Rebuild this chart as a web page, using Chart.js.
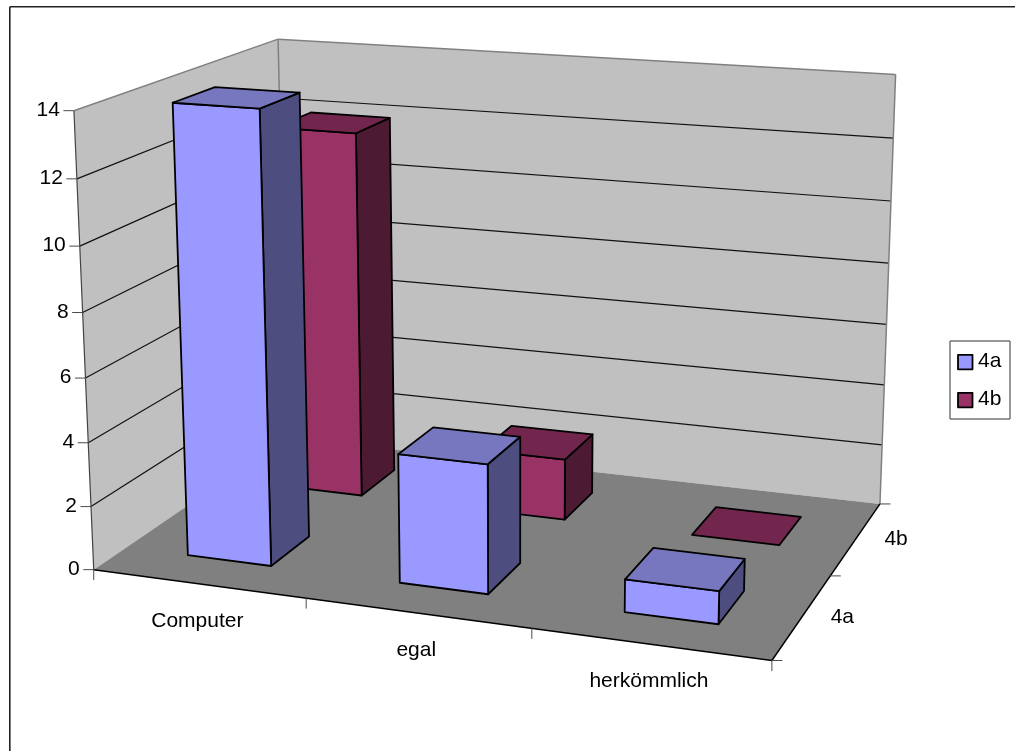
<!DOCTYPE html>
<html>
<head>
<meta charset="utf-8">
<script src="https://cdn.jsdelivr.net/npm/chart.js@4"></script>
<style>
  html, body { margin: 0; padding: 0; background: #fff; }
  canvas { display: block; }
</style>
</head>
<body>
<canvas id="chart" width="1015" height="751"></canvas>
<script>
// Survey answers per class
const categories = ['Computer', 'egal', 'herkömmlich'];
const seriesNames = ['4a', '4b'];
const values4a = [14, 4, 1];
const values4b = [12, 2, 0];
const yTickStep = 2;
const yMax = 14;

// Face colours of the boxes
const frontColors = ['#9999FF', '#993366'];
const topColors = ['#7777BF', '#73264D'];
const sideColors = ['#4D4D80', '#4D1A33'];

// Perspective set-up: unit-cube corners of the plot box (x, y, z) and where they land
const cameraAnchors = [
  [0, 0, 0, 94, 569], [1, 0, 0, 772, 659], [1, 0, 1, 880.5, 504],
  [0, 1, 0, 74, 110.5], [0, 1, 1, 278, 39], [1, 1, 1, 896, 74],
  [1, 0, 0.5, 831, 575], [1 / 3, 0, 0, 306, 598], [2 / 3, 0, 0, 531, 631],
  [0, 1 / 7, 0, 91, 506.7], [0, 6 / 7, 0, 77, 179],
  [1, 6 / 7, 1, 893, 139], [1, 2 / 7, 1, 883.5, 385], [1, 1 / 7, 1, 882, 445]
];

// Least-squares fit of the 3x4 projection matrix (last entry fixed to 1)
function fitCamera(anchors) {
  const n = 11;
  const A = Array.from({ length: n }, () => new Array(n + 1).fill(0));
  const add = (row, rhs) => {
    for (let i = 0; i < n; i++) {
      for (let j = 0; j < n; j++) A[i][j] += row[i] * row[j];
      A[i][n] += row[i] * rhs;
    }
  };
  anchors.forEach(([x, y, z, sx, sy]) => {
    const u = sx / 1000, v = sy / 1000;
    add([x, y, z, 1, 0, 0, 0, 0, -u * x, -u * y, -u * z], u);
    add([0, 0, 0, 0, x, y, z, 1, -v * x, -v * y, -v * z], v);
  });
  for (let c = 0; c < n; c++) {
    let p = c;
    for (let r = c + 1; r < n; r++) if (Math.abs(A[r][c]) > Math.abs(A[p][c])) p = r;
    [A[c], A[p]] = [A[p], A[c]];
    for (let r = 0; r < n; r++) {
      if (r === c) continue;
      const f = A[r][c] / A[c][c];
      for (let k = c; k <= n; k++) A[r][k] -= f * A[c][k];
    }
  }
  return A.map((row, i) => row[n] / row[i]);
}
const cam = fitCamera(cameraAnchors);
function project(x, y, z) {
  const w = cam[8] * x + cam[9] * y + cam[10] * z + 1;
  return [
    1000 * (cam[0] * x + cam[1] * y + cam[2] * z + cam[3]) / w,
    1000 * (cam[4] * x + cam[5] * y + cam[6] * z + cam[7]) / w
  ];
}

function polygon(ctx, pts, fill, stroke, lineWidth) {
  ctx.beginPath();
  pts.forEach((p, i) => (i ? ctx.lineTo(p[0], p[1]) : ctx.moveTo(p[0], p[1])));
  ctx.closePath();
  if (fill) { ctx.fillStyle = fill; ctx.fill(); }
  if (stroke) { ctx.strokeStyle = stroke; ctx.lineWidth = lineWidth; ctx.lineJoin = 'round'; ctx.stroke(); }
}
function segment(ctx, a, b, color, lineWidth) {
  ctx.beginPath();
  ctx.moveTo(a[0], a[1]);
  ctx.lineTo(b[0], b[1]);
  ctx.strokeStyle = color;
  ctx.lineWidth = lineWidth;
  ctx.stroke();
}

const FONT = '21px "Liberation Sans", Arial, sans-serif';
const TICK_LEN = 10.5;
const TICK_COLOR = '#4a4a4a';

// Walls, floor, gridlines, ticks and axis labels of the 3-D plot box
function drawBox(chart) {
  const { ctx, scales } = chart;
  const area = chart.chartArea;
  const yFrac = v => (area.bottom - scales.y.getPixelForValue(v)) / area.height;
  const xFrac = p => (p - area.left) / area.width;

  // chart frame
  segment(ctx, [9.8, 6.7], [1015, 6.7], '#222', 1.6);
  segment(ctx, [9.8, 6.7], [9.8, 751], '#222', 1.6);

  polygon(ctx, [project(0, 0, 0), project(0, 1, 0), project(0, 1, 1), project(0, 0, 1)], '#C0C0C0');
  polygon(ctx, [project(0, 0, 1), project(0, 1, 1), project(1, 1, 1), project(1, 0, 1)], '#C0C0C0');
  polygon(ctx, [project(0, 0, 0), project(1, 0, 0), project(1, 0, 1), project(0, 0, 1)], '#808080');

  ctx.textBaseline = 'middle';
  ctx.font = FONT;

  // value gridlines run along the left wall and across the back wall
  scales.y.ticks.forEach(t => {
    const f = yFrac(t.value);
    const front = project(0, f, 0);
    if (t.value > 0 && t.value < yMax) {
      ctx.beginPath();
      ctx.moveTo(front[0], front[1]);
      const c = project(0, f, 1), r = project(1, f, 1);
      ctx.lineTo(c[0], c[1]);
      ctx.lineTo(r[0], r[1]);
      ctx.strokeStyle = '#111';
      ctx.lineWidth = 1.2;
      ctx.stroke();
    }
    segment(ctx, [front[0] - TICK_LEN, front[1]], front, TICK_COLOR, 1);
    ctx.fillStyle = '#000';
    ctx.textAlign = 'right';
    ctx.fillText(String(t.value), front[0] - TICK_LEN - 3.5, front[1] - 0.5);
  });

  // box outline
  segment(ctx, project(0, 1, 0), project(0, 1, 1), '#808080', 1.5);
  segment(ctx, project(0, 1, 1), project(1, 1, 1), '#808080', 1.5);
  segment(ctx, project(0, 1, 1), project(0, 0, 1), '#808080', 1.5);
  segment(ctx, project(1, 1, 1), project(1, 0, 1), '#808080', 1.5);
  segment(ctx, project(0, 1, 0), project(0, 0, 0), '#444', 1.2);
  segment(ctx, project(0, 0, 0), project(1, 0, 0), '#000', 1.5);
  segment(ctx, project(1, 0, 0), project(1, 0, 1), '#000', 1.5);

  // category ticks and labels along the front edge
  const ticksX = categories.length;
  for (let i = 0; i <= ticksX; i++) {
    const p = project(i / ticksX, 0, 0);
    segment(ctx, p, [p[0], p[1] + TICK_LEN], TICK_COLOR, 1);
  }
  ctx.textAlign = 'center';
  ctx.fillStyle = '#000';
  scales.x.getLabels().forEach((label, i) => {
    const p = project(xFrac(scales.x.getPixelForValue(i)), 0, 0);
    ctx.fillText(label, p[0] - 1, p[1] + 37.5);
  });

  // series ticks and labels along the right edge
  const zScale = scales.z;
  for (let i = 0; i <= seriesNames.length; i++) {
    const p = project(1, 0, i / seriesNames.length);
    segment(ctx, p, [p[0] + TICK_LEN, p[1]], TICK_COLOR, 1);
  }
  zScale.getLabels().forEach((label, i) => {
    const p = project(1, 0, xFrac(zScale.getPixelForValue(i)));
    ctx.fillText(label, p[0] + 40, p[1] + 0.5);
  });
}

// Each bar becomes a box: geometry comes from the bar elements and the depth scale
function drawBars(chart) {
  const { ctx, scales } = chart;
  const area = chart.chartArea;
  const zScale = scales.z;
  const zCell = zScale.getPixelForValue(1) - zScale.getPixelForValue(0);
  const xFrac = p => (p - area.left) / area.width;
  const yFrac = p => (area.bottom - p) / area.height;

  for (let d = chart.data.datasets.length - 1; d >= 0; d--) {
    const ds = chart.data.datasets[d];
    const zCenter = zScale.getPixelForValue(d);
    const z0 = xFrac(zCenter - zCell * ds.barPercentage / 2);
    const z1 = xFrac(zCenter + zCell * ds.barPercentage / 2);
    chart.getDatasetMeta(d).data.forEach(bar => {
      const x0 = xFrac(bar.x - bar.width / 2);
      const x1 = xFrac(bar.x + bar.width / 2);
      const y0 = yFrac(bar.base);
      const y1 = yFrac(bar.y);
      const lw = 1.8;
      if (y1 > y0) {
        polygon(ctx, [project(x1, y0, z0), project(x1, y1, z0), project(x1, y1, z1), project(x1, y0, z1)], sideColors[d], '#000', lw);
        polygon(ctx, [project(x0, y0, z0), project(x1, y0, z0), project(x1, y1, z0), project(x0, y1, z0)], frontColors[d], '#000', lw);
      }
      polygon(ctx, [project(x0, y1, z0), project(x1, y1, z0), project(x1, y1, z1), project(x0, y1, z1)], topColors[d], '#000', lw);
    });
  }
}

// Framed legend at the right of the plot
function drawKey(chart) {
  const { ctx } = chart;
  ctx.fillStyle = '#fff';
  ctx.fillRect(950, 341, 60, 78);
  ctx.strokeStyle = '#333';
  ctx.lineWidth = 1;
  ctx.strokeRect(950, 341, 60, 78);
  ctx.font = FONT;
  ctx.textAlign = 'left';
  ctx.textBaseline = 'middle';
  chart.data.datasets.forEach((ds, i) => {
    const rowY = 362 + i * 38;
    ctx.fillStyle = frontColors[i];
    ctx.fillRect(958, rowY - 7.2, 14.5, 14.5);
    ctx.strokeStyle = '#000';
    ctx.lineWidth = 1.8;
    ctx.strokeRect(958, rowY - 7.2, 14.5, 14.5);
    ctx.fillStyle = '#000';
    ctx.fillText(ds.label, 978, rowY - 1);
  });
}

const boxPlugin = {
  id: 'box3d',
  beforeDatasetsDraw(chart) {
    drawBox(chart);
    drawBars(chart);
    return false;
  },
  afterDraw(chart) {
    drawKey(chart);
  }
};

new Chart(document.getElementById('chart'), {
  type: 'bar',
  data: {
    labels: categories,
    datasets: [
      { label: seriesNames[0], data: values4a, backgroundColor: frontColors[0], xAxisID: 'x', yAxisID: 'y', barPercentage: 0.4, categoryPercentage: 1, grouped: false },
      { label: seriesNames[1], data: values4b, backgroundColor: frontColors[1], xAxisID: 'x', yAxisID: 'y', barPercentage: 0.4, categoryPercentage: 1, grouped: false }
    ]
  },
  options: {
    responsive: false,
    animation: false,
    layout: { padding: 0 },
    plugins: { legend: { display: false }, tooltip: { enabled: false }, title: { display: false } },
    scales: {
      x: { type: 'category', display: false },
      y: { type: 'linear', display: false, min: 0, max: yMax, ticks: { stepSize: yTickStep } },
      z: { type: 'category', axis: 'x', display: false, labels: seriesNames, offset: true }
    }
  },
  plugins: [boxPlugin]
});
</script>
</body>
</html>
